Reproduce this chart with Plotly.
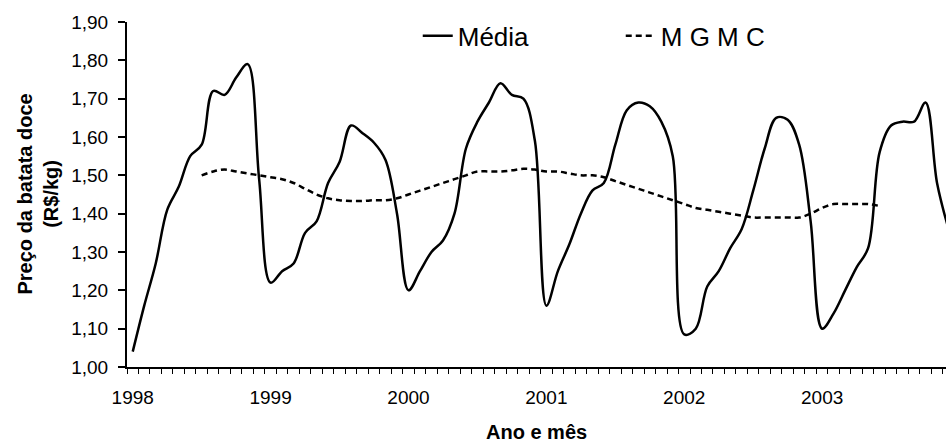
import plotly.graph_objects as go

# monthly prices, jan/1998 .. dec/2003 (R$/kg)
anos = ["1998", "1999", "2000", "2001", "2002", "2003"]

media = [1.04, 1.16, 1.27, 1.41, 1.47, 1.55, 1.58, 1.72, 1.71, 1.755, 1.79, 1.49,
         1.22, 1.25, 1.27, 1.35, 1.38, 1.48, 1.535, 1.63, 1.61, 1.585, 1.54, 1.40,
         1.20, 1.25, 1.30, 1.33, 1.40, 1.57, 1.64, 1.69, 1.74, 1.71, 1.70, 1.59,
         1.16, 1.25, 1.32, 1.40, 1.46, 1.48, 1.58, 1.67, 1.69, 1.68, 1.64, 1.55,
         1.085, 1.10, 1.21, 1.25, 1.31, 1.36, 1.46, 1.57, 1.65, 1.645, 1.58, 1.38,
         1.10, 1.14, 1.20, 1.26, 1.31, 1.56, 1.63, 1.64, 1.64, 1.69, 1.48, 1.36]

# centred 12-month moving average, jul/1998 .. jun/2003
mgmc_inicio = 6
mgmc = [1.50, 1.51, 1.515, 1.51, 1.505, 1.50, 1.495, 1.49, 1.48, 1.465, 1.45, 1.44,
        1.435, 1.433, 1.433, 1.435, 1.435, 1.44, 1.45, 1.46, 1.47, 1.48, 1.49, 1.50,
        1.51, 1.51, 1.51, 1.513, 1.517, 1.515, 1.51, 1.51, 1.505, 1.50, 1.50, 1.495,
        1.485, 1.475, 1.465, 1.455, 1.445, 1.435, 1.425, 1.415, 1.41, 1.405, 1.40, 1.395,
        1.39, 1.39, 1.39, 1.39, 1.39, 1.40, 1.415, 1.425, 1.425, 1.425, 1.425, 1.42]

meses = list(range(len(media)))
meses_mgmc = [mgmc_inicio + i for i in range(len(mgmc))]

fonte = "Liberation Sans, Arial, sans-serif"

fig = go.Figure()
fig.add_trace(
    go.Scatter(
    x=meses,
    y=media,
    mode="lines",
    name="Média",
    line=dict(color="black", width=2.5, shape="spline", smoothing=1)))
fig.add_trace(
    go.Scatter(
    x=meses_mgmc,
    y=mgmc,
    mode="lines",
    name="M G M C",
    line=dict(color="black", width=2.5, dash="6px,4px", shape="spline", smoothing=1)))

fig.update_layout(
    width=946, height=444,
    autosize=False,
    margin=dict(l=127, r=0, t=22, b=77),
    paper_bgcolor="white",
    plot_bgcolor="white",
    separators=",.",
    font=dict(family=fonte, size=19, color="black"),
    showlegend=True,
    legend=dict(orientation="h", x=0.355, y=0.96, xanchor="left", yanchor="middle",
                font=dict(size=26), bgcolor="rgba(0,0,0,0)",
                entrywidth=158, entrywidthmode="pixels"),
)

fig.update_xaxes(
    range=[-0.5, 70.78],
    tickmode="array",
    tickvals=[12 * k for k in range(len(anos))],
    ticktext=anos,
    ticks="",
    ticklabelstandoff=12,
    showgrid=False, zeroline=False,
    showline=True, linecolor="black", linewidth=1.5,
    minor=dict(tick0=-0.5, dtick=1, ticks="outside", ticklen=5, tickwidth=1,
               tickcolor="black", showgrid=False),
)
fig.update_yaxes(
    range=[1.0, 1.9],
    tick0=1.0, dtick=0.1,
    tickformat=".2f",
    ticks="outside", ticklen=7, tickwidth=1.5, tickcolor="black",
    ticklabelstandoff=6,
    showgrid=False, zeroline=False,
    showline=True, linecolor="black", linewidth=2,
)

fig.add_annotation(text="<b>Ano e mês</b>", xref="paper", yref="paper",
                   x=0.5, y=0, xanchor="center", yanchor="middle", yshift=-65,
                   showarrow=False, font=dict(size=20))
fig.add_annotation(text="<b>Preço da batata doce<br>(R$/kg)</b>", xref="paper", yref="paper",
                   x=0, y=0.5, xanchor="center", yanchor="middle", xshift=-90,
                   textangle=-90, showarrow=False, font=dict(size=20))

# drop the default 8px body margin so the figure fills the window exactly
fig.write_html("out.html", config={"displayModeBar": False},
               post_script="document.body.style.margin='0';")
